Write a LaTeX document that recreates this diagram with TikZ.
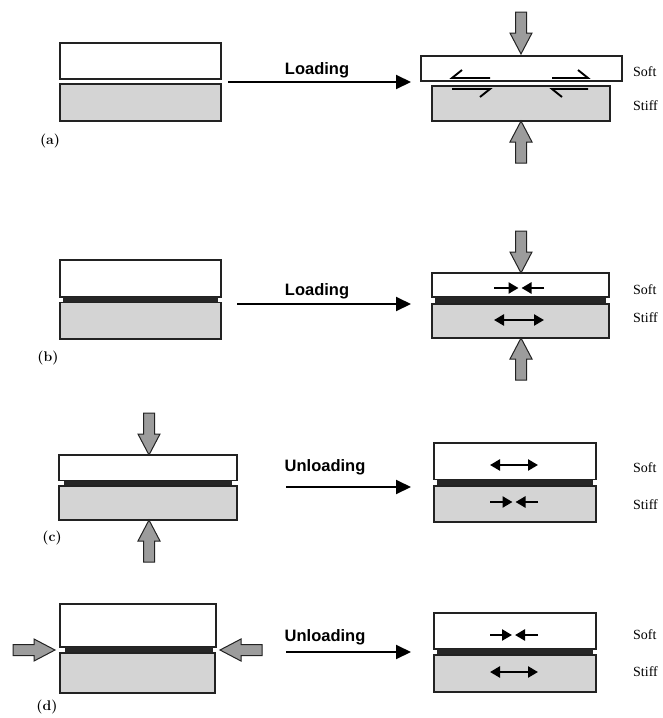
\documentclass[tikz,border=0pt]{standalone}
\usepackage{fontspec}
\newfontfamily\arialb[BoldFont={Liberation Sans Bold}]{Liberation Sans}
\newfontfamily\timesf{Liberation Serif}
\usetikzlibrary{arrows.meta}
\definecolor{stiffgray}{HTML}{D4D4D4}
\definecolor{blockgray}{HTML}{9C9C9C}
\definecolor{edge}{HTML}{222222}
\tikzset{
  softbox/.style={draw=edge, line width=1.5pt, fill=white},
  stiffbox/.style={draw=edge, line width=1.5pt, fill=stiffgray},
  glue/.style={fill=black!85, draw=none},
  garrowst/.style={draw=edge, line width=1pt, fill=blockgray, line join=miter},
  garrow/.pic={\path[garrowst] (-5.5,-42) -- (5.5,-42) -- (5.5,-21) -- (11,-21) -- (0,0) -- (-11,-21) -- (-5.5,-21) -- cycle;},
  mainarrow/.style={line width=2pt, -{Triangle[length=15pt,width=14pt]}},
  stressarrow/.style={line width=2.4pt, -{Triangle[length=10pt,width=11pt]}},
  dblarrow/.style={line width=2.4pt, {Triangle[length=10pt,width=11pt]}-{Triangle[length=10pt,width=11pt]}},
  half/.style={line width=1.9pt, line cap=butt},
  steplabel/.style={font=\arialb\bfseries\fontsize{16.5}{18}\selectfont, inner sep=0pt},
  layerlabel/.style={font=\timesf\fontsize{14}{16}\selectfont, anchor=west, inner sep=0pt},
  panellabel/.style={font=\bfseries\fontsize{14}{16}\selectfont, inner sep=0pt}
}
\begin{document}
\begin{tikzpicture}[x=1pt,y=-1pt]
\useasboundingbox (0,0) rectangle (662,718);

% ---------------- (a) ----------------
\draw[softbox] (60,43) rectangle (221,79);
\draw[stiffbox] (60,84) rectangle (221,121);
\node[panellabel] (la) at (50,141) {(a)};
\coordinate (a1) at (228,82);
\coordinate (a2) at (411,82);
\draw[mainarrow] (a1) -- (a2);
\node[steplabel] (ta) at (317,70) {Loading};
\draw[softbox] (421,56) rectangle (622,81);
\draw[stiffbox] (432,86) rectangle (610,121);
\pic at (521,54) {garrow};
\pic[rotate=180] at (521,121) {garrow};
% shear half arrows
\draw[half] (490,78) -- (452,78) -- (462,70);
\draw[half] (552,78) -- (588,78) -- (578,70);
\draw[half] (452,89) -- (490,89) -- (480,97);
\draw[half] (588,89) -- (552,89) -- (562,97);
\node[layerlabel] (sa) at (633,72) {Soft};
\node[layerlabel] (ka) at (633,106) {Stiff};

% ---------------- (b) ----------------
\draw[softbox] (60,260) rectangle (221,297);
\fill[glue] (63,297) rectangle (218,302.5);
\draw[stiffbox] (60,302.5) rectangle (221,339);
\node[panellabel] (lb) at (48,358) {(b)};
\coordinate (b1) at (237,304);
\coordinate (b2) at (411,304);
\draw[mainarrow] (b1) -- (b2);
\node[steplabel] (tb) at (317,291) {Loading};
\draw[softbox] (432,273) rectangle (609,297);
\fill[glue] (435,297) rectangle (606,304);
\draw[stiffbox] (432,304) rectangle (609,338);
\pic at (521,273) {garrow};
\pic[rotate=180] at (521,338) {garrow};
\coordinate (bs1) at (494,288); \coordinate (bs2) at (518.5,288);
\coordinate (bs3) at (544,288); \coordinate (bs4) at (521.5,288);
\draw[stressarrow] (bs1) -- (bs2);
\draw[stressarrow] (bs3) -- (bs4);
\coordinate (bd1) at (494,320); \coordinate (bd2) at (544,320);
\draw[dblarrow] (bd1) -- (bd2);
\node[layerlabel] (sb) at (633,290) {Soft};
\node[layerlabel] (kb) at (633,318) {Stiff};

% ---------------- (c) ----------------
\draw[softbox] (59,455) rectangle (237,480.5);
\fill[glue] (64,480.5) rectangle (232,486);
\draw[stiffbox] (59,486) rectangle (237,520);
\pic at (149,455) {garrow};
\pic[rotate=180] at (149,520) {garrow};
\node[panellabel] (lc) at (52,538) {(c)};
\coordinate (c1) at (286,487);
\coordinate (c2) at (411,487);
\draw[mainarrow] (c1) -- (c2);
\node[steplabel] (tc) at (325,467) {Unloading};
\draw[softbox] (434,443) rectangle (596,479.5);
\fill[glue] (437,479.5) rectangle (593,486);
\draw[stiffbox] (434,486) rectangle (596,522);
\coordinate (cd1) at (490,465); \coordinate (cd2) at (538,465);
\draw[dblarrow] (cd1) -- (cd2);
\coordinate (cs1) at (490,502); \coordinate (cs2) at (512.5,502);
\coordinate (cs3) at (538,502); \coordinate (cs4) at (515.5,502);
\draw[stressarrow] (cs1) -- (cs2);
\draw[stressarrow] (cs3) -- (cs4);
\node[layerlabel] (sc) at (633,468) {Soft};
\node[layerlabel] (kc) at (633,505) {Stiff};

% ---------------- (d) ----------------
\draw[softbox] (60,604) rectangle (216,647);
\fill[glue] (65,647) rectangle (213,653);
\draw[stiffbox] (60,653) rectangle (215,693);
\pic[rotate=90] at (55,650) {garrow};
\pic[rotate=-90] at (220,650) {garrow};
\node[panellabel] (ld) at (47,707) {(d)};
\coordinate (d1) at (286,652);
\coordinate (d2) at (411,652);
\draw[mainarrow] (d1) -- (d2);
\node[steplabel] (td) at (325,637) {Unloading};
\draw[softbox] (434,613) rectangle (596,649);
\fill[glue] (437,649) rectangle (593,655);
\draw[stiffbox] (434,655) rectangle (596,692);
\coordinate (ds1) at (490,635); \coordinate (ds2) at (512,635);
\coordinate (ds3) at (538,635); \coordinate (ds4) at (515,635);
\draw[stressarrow] (ds1) -- (ds2);
\draw[stressarrow] (ds3) -- (ds4);
\coordinate (dd1) at (490,672); \coordinate (dd2) at (538,672);
\draw[dblarrow] (dd1) -- (dd2);
\node[layerlabel] (sd) at (633,635) {Soft};
\node[layerlabel] (kd) at (633,672) {Stiff};
\end{tikzpicture}
\end{document}
